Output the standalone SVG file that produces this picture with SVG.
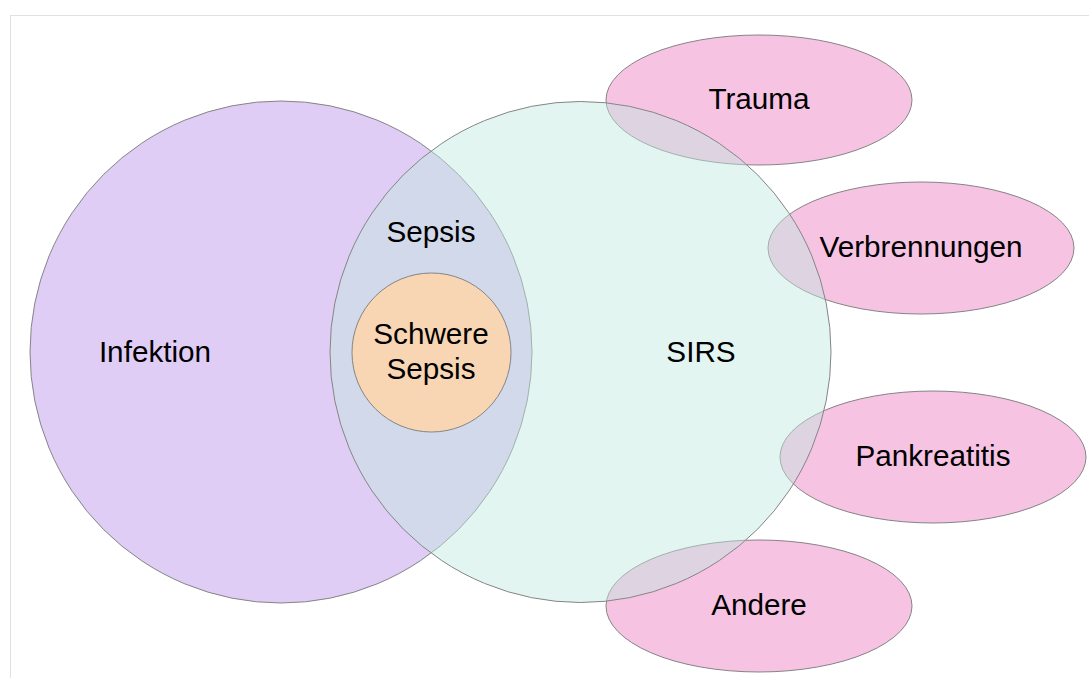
<svg xmlns="http://www.w3.org/2000/svg" width="1089" height="678" viewBox="0 0 1089 678">
<style>
.lbl{font-family:"Liberation Sans",Arial,sans-serif;font-size:29.7px;fill:#000;text-anchor:middle}
.ol{stroke:#858585;stroke-width:1}
.pink{fill:#f6c3e3}
</style>
<rect x="0" y="0" width="1089" height="678" fill="#fff"/>
<rect x="10.5" y="15.5" width="1100" height="700" fill="none" stroke="#e0e0e0" stroke-width="1"/>
<g id="infektion">
<circle class="ol" cx="281" cy="352" r="251" fill="#dfcdf5"/>
</g>
<g id="trauma"><ellipse class="ol pink" cx="759" cy="100" rx="153" ry="65"/></g>
<g id="verbrennungen"><ellipse class="ol pink" cx="921" cy="248" rx="153" ry="66"/></g>
<g id="pankreatitis"><ellipse class="ol pink" cx="933" cy="457" rx="153" ry="66"/></g>
<g id="andere"><ellipse class="ol pink" cx="759" cy="606" rx="153" ry="66"/></g>
<g id="sirs">
<circle class="ol" cx="580.5" cy="352" r="250.5" fill="rgb(193,233,222)" fill-opacity="0.45"/>
</g>
<g id="schwere-sepsis">
<circle class="ol" cx="431.5" cy="352.5" r="79.5" fill="#f8d6b4"/>
</g>
<g id="labels">
<text class="lbl" x="155" y="362">Infektion</text>
<text class="lbl" x="701" y="362">SIRS</text>
<text class="lbl" x="431" y="242">Sepsis</text>
<text class="lbl" x="431" y="344">Schwere</text>
<text class="lbl" x="431" y="379">Sepsis</text>
<text class="lbl" x="759" y="109">Trauma</text>
<text class="lbl" x="921" y="257">Verbrennungen</text>
<text class="lbl" x="933" y="466">Pankreatitis</text>
<text class="lbl" x="759" y="615">Andere</text>
</g>
<g id="connectors"></g>
</svg>
